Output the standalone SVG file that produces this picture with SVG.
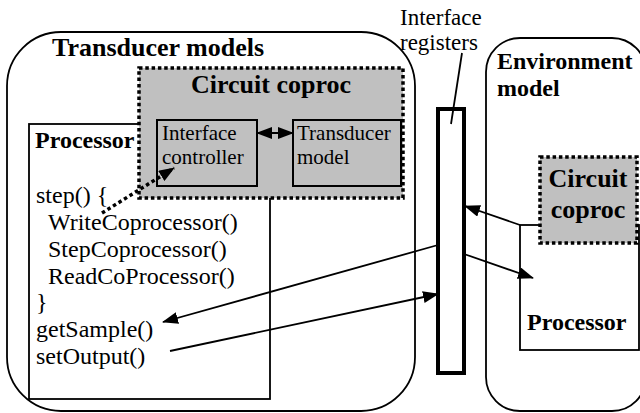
<svg xmlns="http://www.w3.org/2000/svg" width="640" height="413" viewBox="0 0 640 413" font-family="'Liberation Serif', 'Times New Roman', Times, serif">
<defs>
<marker id="ah" viewBox="0 0 16 12" refX="15" refY="6" markerWidth="16" markerHeight="12" markerUnits="userSpaceOnUse" orient="auto-start-reverse">
<path d="M0,0 L16,6 L0,12 Z" fill="#000"/>
</marker>
</defs>
<style>
.line{fill:none;stroke:#000;stroke-width:1.8}
.box{fill:#fff;stroke:#000;stroke-width:1.8}
.gbox{fill:#c0c0c0;stroke:#000;stroke-width:2}
.dot{fill:#c0c0c0;stroke:#000;stroke-width:3.5;stroke-dasharray:3.5 2.8}
text{font-family:'Liberation Serif','Times New Roman',Times,serif;fill:#000}
.b{font-weight:bold}
</style>
<rect width="640" height="413" fill="#fff"/>
<g id="transducer-models">
<rect x="7" y="32" width="408" height="379" rx="54" ry="54" class="box"/>
<text x="52" y="56" class="b" font-size="26">Transducer models</text>
</g>
<g id="environment-model">
<rect x="486" y="38" width="160" height="373" rx="34" ry="34" class="box"/>
<text x="497" y="69" class="b" font-size="24">Environment</text>
<text x="497" y="96" class="b" font-size="24">model</text>
</g>
<g id="processor-left">
<rect x="29" y="124" width="241" height="275" class="box"/>
<text x="35" y="148" class="b" font-size="24">Processor</text>
<text font-size="24">
<tspan x="36" y="203">step() {</tspan>
<tspan x="48" y="230">WriteCoprocessor()</tspan>
<tspan x="48" y="257">StepCoprocessor()</tspan>
<tspan x="48" y="284">ReadCoProcessor()</tspan>
<tspan x="36" y="310">}</tspan>
<tspan x="36" y="337">getSample()</tspan>
<tspan x="36" y="364">setOutput()</tspan>
</text>
</g>
<g id="circuit-coproc-left">
<rect x="139" y="68" width="264" height="130" class="dot"/>
<text x="271" y="93" class="b" font-size="26" text-anchor="middle">Circuit coproc</text>
</g>
<g id="interface-controller">
<rect x="157" y="120" width="100" height="66" class="gbox"/>
<text x="162" y="140" font-size="21">Interface</text>
<text x="162" y="164" font-size="21">controller</text>
</g>
<g id="transducer-model">
<rect x="293" y="120" width="108" height="66" class="gbox"/>
<text x="297" y="140" font-size="21">Transducer</text>
<text x="297" y="164" font-size="21">model</text>
</g>
<g id="interface-registers">
<rect x="438" y="109" width="26" height="264" fill="#fff" stroke="#000" stroke-width="4"/>
<text x="400" y="25" font-size="23">Interface</text>
<text x="400" y="50" font-size="23">registers</text>
</g>
<g id="processor-right">
<rect x="520" y="225" width="119" height="125" class="box"/>
<text x="527" y="330" class="b" font-size="24">Processor</text>
</g>
<g id="circuit-coproc-right">
<rect x="540" y="157" width="97" height="86" class="dot"/>
<text x="588" y="187" class="b" font-size="26" text-anchor="middle">Circuit</text>
<text x="588" y="218" class="b" font-size="26" text-anchor="middle">coproc</text>
</g>
<g id="connectors">
<line x1="462" y1="53" x2="451" y2="124" class="line"/>
<line x1="257" y1="133" x2="293" y2="133" class="line" marker-start="url(#ah)" marker-end="url(#ah)"/>
<line x1="102" y1="213" x2="174" y2="168" fill="none" stroke="#000" stroke-width="3.5" stroke-dasharray="3.5 3" marker-end="url(#ah)"/>
<line x1="520" y1="225" x2="465" y2="206" class="line" marker-end="url(#ah)"/>
<line x1="464" y1="254" x2="533" y2="278" class="line" marker-end="url(#ah)"/>
<line x1="438" y1="245" x2="163" y2="322" class="line" marker-end="url(#ah)"/>
<line x1="170" y1="351" x2="438" y2="294" class="line" marker-end="url(#ah)"/>
</g>
</svg>
